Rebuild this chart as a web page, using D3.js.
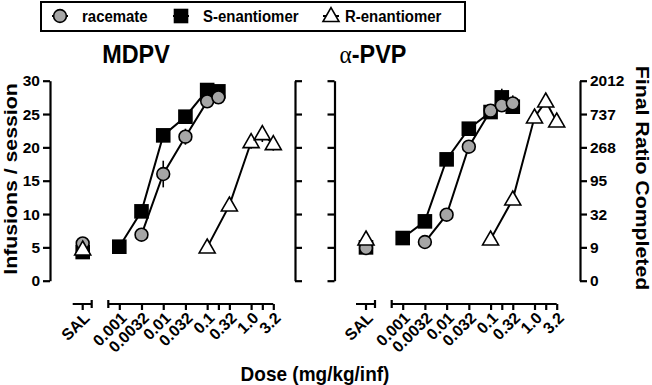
<!DOCTYPE html>
<html>
<head>
<meta charset="utf-8">
<script src="https://cdn.jsdelivr.net/npm/d3@7"></script>
<style>
  body { margin: 0; background: #fff; }
  svg { display: block; font-family: "Liberation Sans", Arial, sans-serif; font-weight: bold; }
</style>
</head>
<body>
<svg id="chart" width="652" height="385"></svg>
<script>
// dose axis ticks (mg/kg/inf) and their labels
const doseTicks = [0.001, 0.0032, 0.01, 0.032, 0.1, 0.18, 0.32, 1.0, 1.8, 3.2];
const doseLabels = ["0.001", "0.0032", "0.01", "0.032", "0.1", "", "0.32", "1.0", "", "3.2"];
const yTicks = [0, 5, 10, 15, 20, 25, 30];
const ratioLabels = ["0", "9", "32", "95", "268", "737", "2012"];

// MDPV
const mdpvRacDose = [0.0032, 0.01, 0.032, 0.1, 0.18];
const mdpvRac = [6.9, 16.0, 21.6, 26.9, 27.5];
const mdpvRacErr = [0.4, 2.0, 1.2, 0.6, 1.0];
const mdpvSDose = [0.001, 0.0032, 0.01, 0.032, 0.1, 0.18];
const mdpvS = [5.1, 10.4, 21.8, 24.6, 28.6, 28.4];
const mdpvSErr = [0.3, 1.0, 0.5, 0.6, 0.6, 0.8];
const mdpvRDose = [0.1, 0.32, 1.0, 1.8, 3.2];
const mdpvR = [5.0, 11.3, 20.8, 22.0, 20.5];
const mdpvRErr = [0.3, 0.8, 1.0, 1.2, 1.0];
const mdpvSal = [5.6, 4.3, 4.7]; // racemate, S, R

// alpha-PVP
const pvpRacDose = [0.0032, 0.01, 0.032, 0.1, 0.18, 0.32];
const pvpRac = [5.8, 9.9, 20.1, 25.5, 26.3, 26.6];
const pvpRacErr = [0.4, 0.5, 0.6, 0.8, 0.9, 1.2];
const pvpSDose = [0.001, 0.0032, 0.01, 0.032, 0.1, 0.18, 0.32];
const pvpS = [6.4, 8.9, 18.2, 22.8, 25.3, 27.5, 26.1];
const pvpSErr = [0.4, 0.6, 0.6, 0.6, 0.8, 1.3, 1.0];
const pvpRDose = [0.1, 0.32, 1.0, 1.8, 3.2];
const pvpR = [6.2, 12.2, 24.5, 26.9, 23.9];
const pvpRErr = [0.3, 0.6, 0.8, 0.6, 0.6];
const pvpSal = [4.9, 5.0, 6.2];

const svg = d3.select("#chart");
const y = d3.scaleLinear().domain([0, 30]).range([280.7, 80.7]);
const axisY = 304;

function trianglePath(size) {
  const h = size * 0.87;
  return `M0,${-h * 0.6}L${size / 2},${h * 0.4}L${-size / 2},${h * 0.4}Z`;
}

function drawMarker(g, kind, cx, cy) {
  if (kind === "circle") {
    g.append("circle").attr("cx", cx).attr("cy", cy).attr("r", 6.4)
      .attr("fill", "#a6a6a6").attr("stroke", "#000").attr("stroke-width", 1.6);
  } else if (kind === "square") {
    g.append("rect").attr("x", cx - 7.3).attr("y", cy - 7.3).attr("width", 14.6).attr("height", 14.6)
      .attr("fill", "#000");
  } else {
    g.append("path").attr("d", trianglePath(16)).attr("transform", `translate(${cx},${cy})`)
      .attr("fill", "#fff").attr("stroke", "#000").attr("stroke-width", 1.6).attr("stroke-linejoin", "miter");
  }
}

function styleText(sel, size) {
  sel.attr("font-family", "Liberation Sans, Arial, sans-serif")
    .attr("font-weight", "bold").attr("font-size", size).attr("fill", "#000");
}

function drawPanel(opt) {
  const g = svg.append("g");
  const x = d3.scaleLog().domain([0.001, 3.2]).range(opt.doseRange);

  // left y axis
  const left = g.append("g").attr("transform", `translate(${opt.leftX},0)`)
    .call(d3.axisLeft(y).tickValues(yTicks).tickSize(7).tickSizeOuter(0).tickPadding(3)
      .tickFormat(opt.leftLabels ? d3.format("d") : ""));
  // right y axis
  const right = g.append("g").attr("transform", `translate(${opt.rightX},0)`)
    .call(d3.axisRight(y).tickValues(yTicks).tickSize(7).tickSizeOuter(0).tickPadding(3)
      .tickFormat(opt.rightLabels ? (d, i) => ratioLabels[i] : ""));
  [left, right].forEach(a => {
    a.select(".domain").attr("stroke-width", 2.2);
    a.selectAll(".tick line").attr("stroke-width", 2.2);
    styleText(a.selectAll("text"), 15.5);
  });

  // dose axis
  const xa = g.append("g").attr("transform", `translate(0,${axisY})`)
    .call(d3.axisBottom(x).tickValues(doseTicks).tickSize(6).tickSizeOuter(0).tickFormat(""));
  xa.select(".domain").attr("d", `M${opt.doseStart},0H${opt.doseRange[1]}`).attr("stroke-width", 2.2);
  xa.selectAll(".tick line").attr("stroke-width", 2.2);
  xa.append("line").attr("x1", opt.doseStart).attr("x2", opt.doseStart).attr("y1", -4).attr("y2", 4)
    .attr("stroke", "#000").attr("stroke-width", 2.2);
  xa.selectAll(".tick").each(function (d, i) {
    const t = d3.select(this).append("text").text(doseLabels[i])
      .attr("transform", "translate(4,11) rotate(-45)")
      .attr("text-anchor", "end").attr("dy", "0.35em");
    styleText(t, 16);
  });

  // saline bracket
  const sal = g.append("g").attr("transform", `translate(0,${axisY})`);
  sal.append("path").attr("d", `M${opt.salX - 10},0H${opt.salX + 9}M${opt.salX + 9},-4V4M${opt.salX},0V6`)
    .attr("fill", "none").attr("stroke", "#000").attr("stroke-width", 2.2);
  styleText(sal.append("text").text("SAL")
    .attr("transform", `translate(${opt.salX + 4},11) rotate(-45)`)
    .attr("text-anchor", "end").attr("dy", "0.35em"), 16);

  const series = [
    { kind: "square", dose: opt.sDose, val: opt.s, err: opt.sErr, sal: opt.sal[1] },
    { kind: "circle", dose: opt.racDose, val: opt.rac, err: opt.racErr, sal: opt.sal[0] },
    { kind: "triangle", dose: opt.rDose, val: opt.r, err: opt.rErr, sal: opt.sal[2] }
  ];
  const line = d3.line().x(d => x(d[0])).y(d => y(d[1]));

  series.forEach(s => {
    const pts = s.dose.map((d, i) => [d, s.val[i], s.err[i]]);
    g.append("path").datum(pts).attr("d", line).attr("fill", "none")
      .attr("stroke", "#000").attr("stroke-width", 2);
  });
  series.forEach(s => {
    const pts = s.dose.map((d, i) => [d, s.val[i], s.err[i]]);
    pts.forEach(p => {
      g.append("line").attr("x1", x(p[0])).attr("x2", x(p[0]))
        .attr("y1", y(p[1] - p[2])).attr("y2", y(p[1] + p[2]))
        .attr("stroke", "#000").attr("stroke-width", 1.6);
    });
    pts.forEach(p => drawMarker(g, s.kind, x(p[0]), y(p[1])));
  });
  // saline points
  series.forEach(s => drawMarker(g, s.kind, opt.salX, y(s.sal)));

  const t = g.append("text").attr("transform", `translate(${opt.titleX},63) scale(0.9,1)`)
    .attr("text-anchor", "middle").attr("font-size", 26);
  if (opt.alpha) {
    t.append("tspan").text("α").attr("font-family", "Liberation Serif, serif").attr("font-weight", "normal");
  }
  t.append("tspan").text(opt.title);
}

drawPanel({
  title: "MDPV", titleX: 136, alpha: false,
  leftX: 50, rightX: 295, leftLabels: true, rightLabels: false,
  doseRange: [119.3, 273.3], doseStart: 108.3, salX: 82.7,
  racDose: mdpvRacDose, rac: mdpvRac, racErr: mdpvRacErr,
  sDose: mdpvSDose, s: mdpvS, sErr: mdpvSErr,
  rDose: mdpvRDose, r: mdpvR, rErr: mdpvRErr, sal: mdpvSal
});
drawPanel({
  title: "-PVP", titleX: 373, alpha: true,
  leftX: 334.5, rightX: 580, leftLabels: false, rightLabels: true,
  doseRange: [402.7, 556.7], doseStart: 391.7, salX: 366,
  racDose: pvpRacDose, rac: pvpRac, racErr: pvpRacErr,
  sDose: pvpSDose, s: pvpS, sErr: pvpSErr,
  rDose: pvpRDose, r: pvpR, rErr: pvpRErr, sal: pvpSal
});

// axis titles
svg.append("text").text("Infusions / session")
  .attr("transform", "translate(17,179) rotate(-90) scale(1.12,1)")
  .attr("text-anchor", "middle").attr("font-size", 19);
svg.append("text").text("Final Ratio Completed")
  .attr("transform", "translate(636,178) rotate(90) scale(1.12,1)")
  .attr("text-anchor", "middle").attr("font-size", 19);
svg.append("text").text("Dose (mg/kg/inf)")
  .attr("transform", "translate(315,381) scale(0.95,1)")
  .attr("text-anchor", "middle").attr("font-size", 20);

// legend
const legend = svg.append("g");
legend.append("rect").attr("x", 41).attr("y", 2).attr("width", 424).attr("height", 29)
  .attr("fill", "#fff").attr("stroke", "#000").attr("stroke-width", 2);
[
  { kind: "circle", label: "racemate", mx: 60, tx: 82 },
  { kind: "square", label: "S-enantiomer", mx: 181, tx: 203 },
  { kind: "triangle", label: "R-enantiomer", mx: 331, tx: 345 }
].forEach(item => {
  legend.append("line").attr("x1", item.mx - 8).attr("x2", item.mx + 8).attr("y1", 16).attr("y2", 16)
    .attr("stroke", "#000").attr("stroke-width", 2);
  drawMarker(legend, item.kind, item.mx, 16);
  legend.append("text").text(item.label)
    .attr("transform", `translate(${item.tx},22) scale(0.88,1)`)
    .attr("font-size", 17);
});
</script>
</body>
</html>
